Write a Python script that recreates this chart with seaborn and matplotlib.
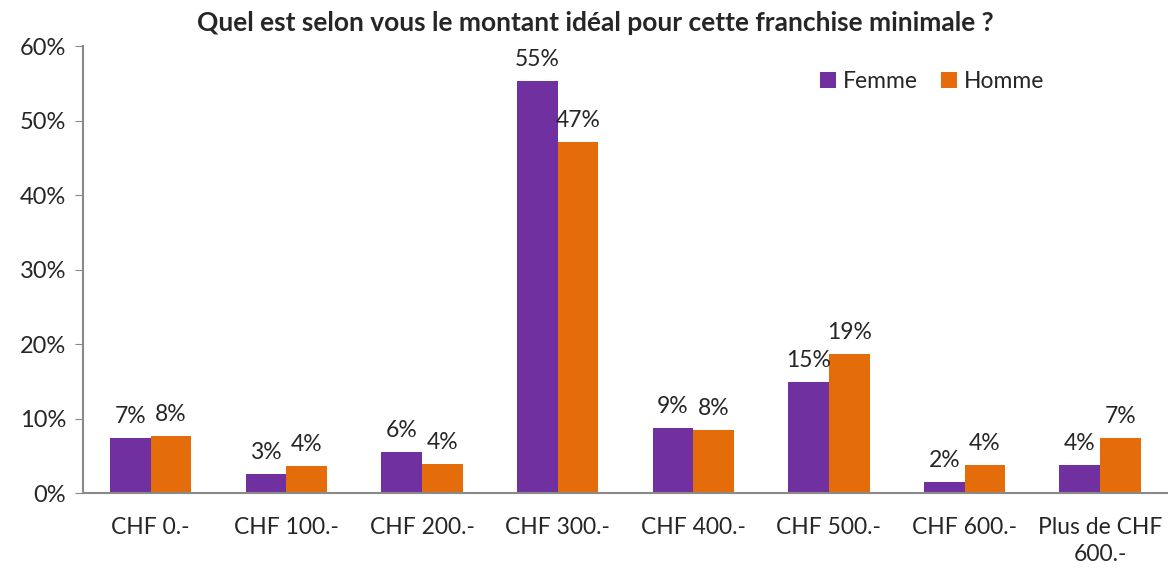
import pandas as pd
import matplotlib.pyplot as plt
import seaborn as sns

# Données
categories = ["CHF 0.-", "CHF 100.-", "CHF 200.-", "CHF 300.-",
              "CHF 400.-", "CHF 500.-", "CHF 600.-", "Plus de CHF\n600.-"]
femme = [7.4, 2.6, 5.5, 55.3, 8.7, 14.9, 1.5, 3.8]
homme = [7.7, 3.6, 3.9, 47.1, 8.5, 18.7, 3.8, 7.4]
labels_femme = ["7%", "3%", "6%", "55%", "9%", "15%", "2%", "4%"]
labels_homme = ["8%", "4%", "4%", "47%", "8%", "19%", "4%", "7%"]
yticks = [0, 10, 20, 30, 40, 50, 60]

df = pd.DataFrame({
    "categorie": categories * 2,
    "valeur": femme + homme,
    "sexe": ["Femme"] * len(categories) + ["Homme"] * len(categories),
})

sns.set_style("white")
plt.rcParams['font.family'] = ['Lato', 'DejaVu Sans']

fig = plt.figure(figsize=(11.68, 5.68), dpi=100)
ax = fig.add_axes([0.071, 0.132, 0.929, 0.787])

sns.barplot(data=df, x="categorie", y="valeur", hue="sexe",
            palette={"Femme": "#7030A0", "Homme": "#E46C0A"},
            width=0.6, ax=ax, saturation=1, linewidth=0)

for cont, labs in zip(ax.containers, [labels_femme, labels_homme]):
    ax.bar_label(cont, labels=labs, padding=8, fontsize=16.5)

ax.set_ylim(0, 60)
ax.set_xlim(-0.5, len(categories) - 0.5)
ax.set_yticks(yticks)
ax.set_yticklabels([f"{t}%" for t in yticks], fontsize=17)
ax.set_xticks(range(len(categories)))
ax.set_xticklabels(categories, fontsize=16.5, linespacing=1.35)
ax.set_xticks([i - 0.5 for i in range(len(categories) + 1)], minor=True)
ax.tick_params(axis="x", which="major", length=0, pad=17)
ax.tick_params(axis="x", which="minor", length=6, color="#898989", direction="out")
ax.tick_params(axis="y", length=6, color="#898989", direction="out", left=True, pad=6)
ax.set_xlabel("")
ax.set_ylabel("")

for s in ["top", "right"]:
    ax.spines[s].set_visible(False)
for s in ["left", "bottom"]:
    ax.spines[s].set_color("#898989")
    ax.spines[s].set_linewidth(1.5)

ax.legend(loc="upper right", bbox_to_anchor=(0.905, 0.99), ncol=2, frameon=False,
          fontsize=16.5, handlelength=0.7, handleheight=0.7, handletextpad=0.3,
          columnspacing=1.0)

fig.suptitle("Quel est selon vous le montant idéal pour cette franchise minimale ?",
             fontsize=19, fontweight="bold", x=0.51, y=0.98)

fig.savefig("out.png", dpi=100)
